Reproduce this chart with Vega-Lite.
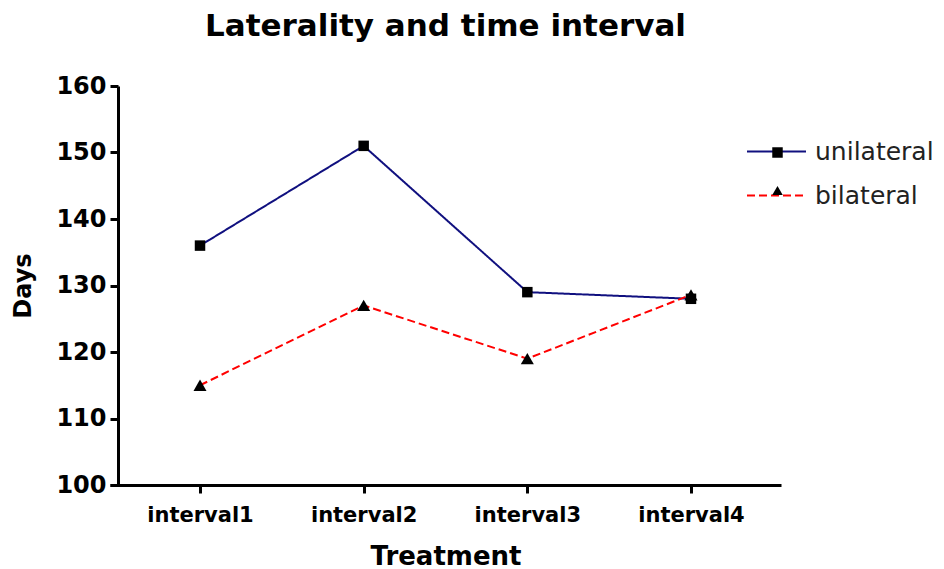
{
  "$schema": "https://vega.github.io/schema/vega-lite/v6.json",
  "width": 671,
  "height": 399,
  "autosize": {"type": "none"},
  "padding": {"left": 110, "top": 86, "right": 163, "bottom": 84},
  "background": "white",
  "config": {"view": {"stroke": null}},
  "title": {
    "text": "Laterality and time interval",
    "font": "DejaVu Sans",
    "fontSize": 31,
    "fontWeight": "bold",
    "color": "black",
    "anchor": "middle",
    "offset": 31
  },
  "data": {
    "values": [
      {"interval": "interval1", "series": "unilateral", "marker": "unilateral", "days": 136},
      {"interval": "interval2", "series": "unilateral", "marker": "unilateral", "days": 151},
      {"interval": "interval3", "series": "unilateral", "marker": "unilateral", "days": 129},
      {"interval": "interval4", "series": "unilateral", "marker": "unilateral", "days": 128},
      {"interval": "interval1", "series": "bilateral", "marker": "bilateral", "days": 115},
      {"interval": "interval2", "series": "bilateral", "marker": "bilateral", "days": 127},
      {"interval": "interval3", "series": "bilateral", "marker": "bilateral", "days": 119},
      {"interval": "interval4", "series": "bilateral", "marker": "bilateral", "days": 128.6}
    ]
  },
  "encoding": {
    "x": {
      "field": "interval",
      "type": "nominal",
      "scale": {"type": "point", "padding": 0.55},
      "axis": {
        "title": "Treatment",
        "titleFont": "DejaVu Sans",
        "titleFontSize": 26,
        "titleFontWeight": "bold",
        "titleColor": "black",
        "titlePadding": 18,
        "labelAngle": 0,
        "labelFont": "DejaVu Sans",
        "labelFontSize": 21,
        "labelFontWeight": "bold",
        "labelColor": "black",
        "labelPadding": 11,
        "domainColor": "black",
        "domainWidth": 3,
        "tickColor": "black",
        "tickWidth": 3,
        "tickSize": 8,
        "grid": false
      }
    },
    "y": {
      "field": "days",
      "type": "quantitative",
      "scale": {"domain": [100, 160], "nice": false, "zero": false},
      "axis": {
        "title": "Days",
        "titleFont": "DejaVu Sans",
        "titleFontSize": 24,
        "titleFontWeight": "bold",
        "titleColor": "black",
        "titlePadding": 20,
        "values": [100, 110, 120, 130, 140, 150, 160],
        "offset": -8,
        "labelFont": "DejaVu Sans",
        "labelFontSize": 24,
        "labelFontWeight": "bold",
        "labelColor": "black",
        "labelPadding": 4,
        "domainColor": "black",
        "domainWidth": 3,
        "tickColor": "black",
        "tickWidth": 3,
        "tickSize": 8,
        "grid": false
      }
    }
  },
  "resolve": {"legend": {"color": "independent", "shape": "independent", "strokeDash": "independent"}},
  "layer": [
    {
      "mark": {"type": "line", "strokeWidth": 2},
      "encoding": {
        "color": {
          "field": "series",
          "type": "nominal",
          "scale": {"domain": ["unilateral", "bilateral"], "range": ["#10107f", "#ff0000"]},
          "legend": {
            "title": null,
            "orient": "none",
            "legendX": 636,
            "legendY": 35,
            "symbolType": "stroke",
            "symbolSize": 3481,
            "symbolStrokeWidth": 2,
            "labelFont": "DejaVu Sans",
            "labelFontSize": 25,
            "labelColor": "#222222",
            "labelOffset": 8,
            "rowPadding": -6
          }
        },
        "strokeDash": {
          "field": "series",
          "type": "nominal",
          "scale": {"domain": ["unilateral", "bilateral"], "range": [[1, 0], [8, 4]]},
          "legend": {
            "title": null,
            "orient": "none",
            "legendX": 636,
            "legendY": 35,
            "symbolType": "stroke",
            "symbolSize": 3481,
            "symbolStrokeWidth": 2,
            "labelFont": "DejaVu Sans",
            "labelFontSize": 25,
            "labelColor": "#222222",
            "labelOffset": 8,
            "rowPadding": -6
          }
        }
      }
    },
    {
      "mark": {"type": "point", "filled": true, "color": "black", "opacity": 1},
      "encoding": {
        "shape": {
          "field": "marker",
          "type": "nominal",
          "sort": ["unilateral", "bilateral"],
          "scale": {"range": ["square", "triangle-up"]},
          "legend": {
            "title": null,
            "orient": "none",
            "legendX": 655,
            "legendY": 54,
            "symbolSize": 110,
            "symbolFillColor": "black",
            "symbolStrokeWidth": 0,
            "labelFont": "DejaVu Sans",
            "labelFontSize": 25,
            "labelOpacity": 0,
            "labelOffset": 8,
            "rowPadding": 12
          }
        },
        "size": {
          "field": "marker",
          "type": "nominal",
          "sort": ["unilateral", "bilateral"],
          "scale": {"range": [110, 170]},
          "legend": null
        }
      }
    }
  ]
}
